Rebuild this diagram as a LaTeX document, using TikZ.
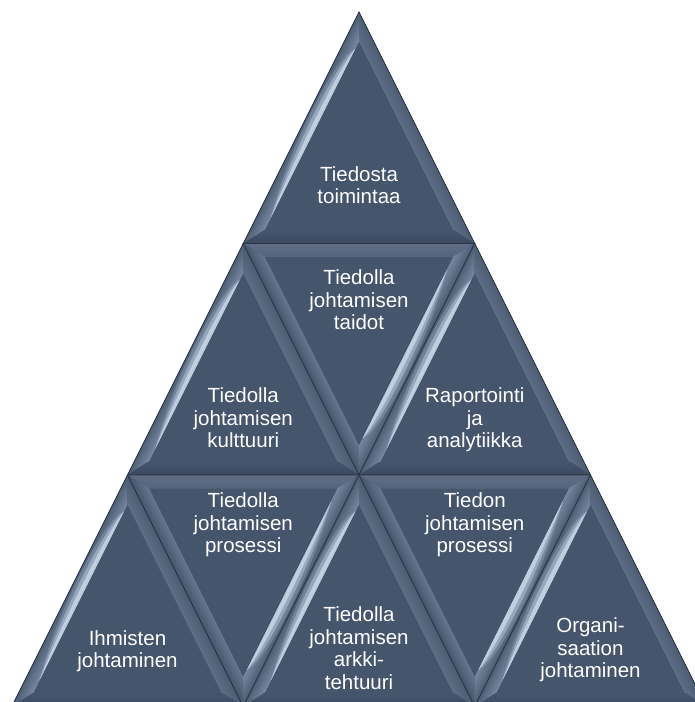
\documentclass[tikz,border=0pt]{standalone}
\usepackage{fontspec}
\setmainfont{Liberation Sans}
\usetikzlibrary{calc}

\definecolor{tribody}{HTML}{45556C}
\definecolor{triedgecol}{HTML}{2B3543}
\definecolor{upleftout}{HTML}{4F5F76}
\definecolor{upleftin}{HTML}{74859D}
\definecolor{uprightout}{HTML}{4D5D74}
\definecolor{uprightin}{HTML}{5D6D84}
\definecolor{upbottomout}{HTML}{3C4B60}
\definecolor{upbottomin}{HTML}{45556C}
\definecolor{downtopout}{HTML}{5F6E84}
\definecolor{downtopin}{HTML}{56667D}
\definecolor{downleftout}{HTML}{48586F}
\definecolor{downleftin}{HTML}{65758D}
\definecolor{downrightout}{HTML}{4F5F76}
\definecolor{downrightin}{HTML}{74859D}
\definecolor{shine1}{HTML}{8293AB}
\definecolor{shine2}{HTML}{A2B3C9}
\definecolor{shine3}{HTML}{C8D6E6}

% one bevel facet, shaded in strips from its outer edge (#1-#2) to its inner edge (#4-#3)
\newcommand\bevelband[6]{%
  \foreach \k in {0,...,9}{%
    \pgfmathsetmacro\ta{\k/10}%
    \pgfmathtruncatemacro\mixpct{100*\k/9}%
    \fill[#6!\mixpct!#5] ($(#1)!\ta!(#4)$) -- ($(#2)!\ta!(#3)$) -- (#3) -- (#4) -- cycle;
  }}

% soft highlight lying along the inner edge of a facet
\newcommand\lens[4]{%
  \path ($(#1)!0.4!(#2)$) coordinate (lo1) ($(#1)!0.8!(#2)$) coordinate (lo2)
        ($(#4)!0.4!(#3)$) coordinate (li1) ($(#4)!0.8!(#3)$) coordinate (li2);
  \foreach \f/\c/\o in {1.15/shine1/0.55, 0.8/shine2/0.75, 0.45/shine3/0.85}{%
    \fill[\c, opacity=\o] ($(#4)!0.07!(#3)$) .. controls ($(li1)!\f!(lo1)$) and ($(li2)!\f!(lo2)$) .. ($(#4)!0.96!(#3)$) -- cycle;
  }}

% bevelled triangle pointing up: apex x, apex y, name
\newcommand\uptri[3]{%
  \coordinate (#3a) at (#1,#2);
  \coordinate (#3l) at (#1-115.75,#2+231.5);
  \coordinate (#3r) at (#1+115.75,#2+231.5);
  \coordinate (#3ia) at (#1,#2+29.07);
  \coordinate (#3il) at (#1-94.71,#2+218.5);
  \coordinate (#3ir) at (#1+94.71,#2+218.5);
  \fill[tribody] (#3a) -- (#3l) -- (#3r) -- cycle;
  \bevelband{#3l}{#3a}{#3ia}{#3il}{upleftout}{upleftin}
  \bevelband{#3a}{#3r}{#3ir}{#3ia}{uprightout}{uprightin}
  \bevelband{#3r}{#3l}{#3il}{#3ir}{upbottomout}{upbottomin}
  \lens{#3l}{#3a}{#3ia}{#3il}
  \draw[triedge] (#3a) -- (#3l) -- (#3r) -- cycle;
}

% bevelled triangle pointing down: top centre x, top y, name
\newcommand\downtri[3]{%
  \coordinate (#3tl) at (#1-115.75,#2);
  \coordinate (#3tr) at (#1+115.75,#2);
  \coordinate (#3b) at (#1,#2+231.5);
  \coordinate (#3itl) at (#1-94.71,#2+13);
  \coordinate (#3itr) at (#1+94.71,#2+13);
  \coordinate (#3ib) at (#1,#2+202.43);
  \fill[tribody] (#3tl) -- (#3tr) -- (#3b) -- cycle;
  \bevelband{#3tl}{#3tr}{#3itr}{#3itl}{downtopout}{downtopin}
  \bevelband{#3b}{#3tl}{#3itl}{#3ib}{downleftout}{downleftin}
  \bevelband{#3tr}{#3b}{#3ib}{#3itr}{downrightout}{downrightin}
  \lens{#3tr}{#3b}{#3ib}{#3itr}
  \draw[triedge] (#3tl) -- (#3tr) -- (#3b) -- cycle;
}

\begin{document}
\begin{tikzpicture}[x=1pt,y=-1pt,
  triedge/.style={draw=triedgecol, line width=0.8pt, line join=miter},
  tritext/.style={text=white, align=center, inner sep=0pt,
    font=\fontsize{20.5}{22.5}\selectfont}]
\useasboundingbox (0,0) rectangle (695,702);
\fill[white] (0,0) rectangle (695,702);
\clip (0,0) rectangle (695,702);

% top row
\uptri{359}{12}{ta}
% middle row
\uptri{243.25}{243.5}{tb}
\downtri{359}{243.5}{tc}
\uptri{474.75}{243.5}{td}
% bottom row
\uptri{127.5}{475}{te}
\downtri{243.25}{475}{tf}
\uptri{359}{475}{tg}
\downtri{474.75}{475}{th}
\uptri{590.5}{475}{ti}

\node[tritext] (toiminta) at (359,185) {Tiedosta\\toimintaa};
\node[tritext] (kulttuuri) at (243.25,418) {Tiedolla\\johtamisen\\kulttuuri};
\node[tritext] (taidot) at (359,300) {Tiedolla\\johtamisen\\taidot};
\node[tritext] (raportointi) at (474.75,420) {Raportointi\\ja\\analytiikka};
\node[tritext] (ihmiset) at (127.5,651) {Ihmisten\\johtaminen};
\node[tritext] (prosessi) at (243.25,525) {Tiedolla\\johtamisen\\prosessi};
\node[tritext] (arkkitehtuuri) at (359,648) {Tiedolla\\johtamisen\\arkki-\\tehtuuri};
\node[tritext] (tietoprosessi) at (474.75,525) {Tiedon\\johtamisen\\prosessi};
\node[tritext] (organisaatio) at (590.5,650) {Organi-\\saation\\johtaminen};
\end{tikzpicture}
\end{document}
